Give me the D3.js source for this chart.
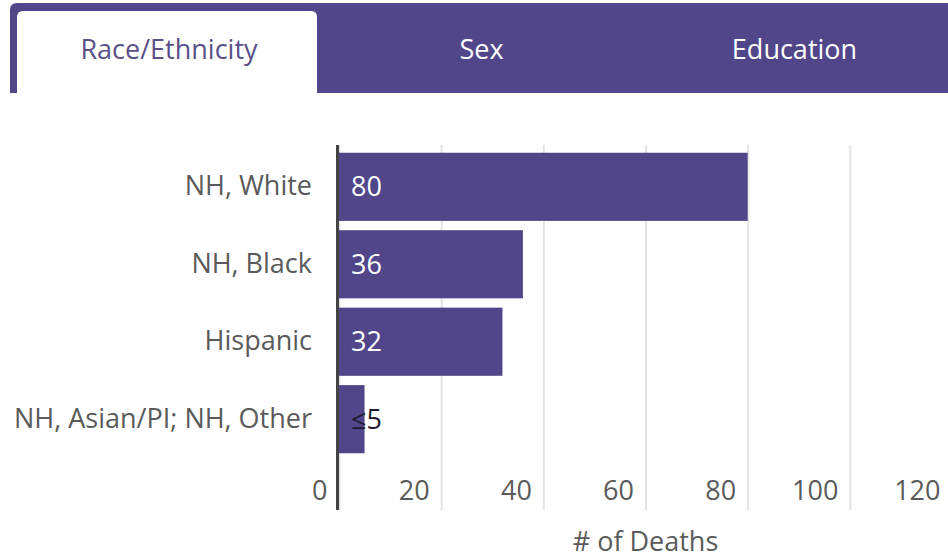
<!DOCTYPE html>
<html>
<head>
<meta charset="utf-8">
<script src="https://cdn.jsdelivr.net/npm/d3@7/dist/d3.min.js"></script>
<style>
  html, body { margin: 0; padding: 0; background: #fff; }
  svg { display: block; font-family: "Open Sans", sans-serif; }
</style>
</head>
<body>
<svg id="chart" width="948" height="560"></svg>
<script>
const tabs = ["Race/Ethnicity", "Sex", "Education"];
const categories = ["NH, White", "NH, Black", "Hispanic", "NH, Asian/PI; NH, Other"];
const values = [80, 36, 32, 5];
const valueLabels = ["80", "36", "32", "≤5"];
const xTicks = [0, 20, 40, 60, 80, 100, 120];
const xTitle = "# of Deaths";

const purple = "#51468a";
const fs = 27;
const svg = d3.select("#chart");

// ---- Tabs ----
const tabX = d3.scaleBand().domain(tabs).range([10, 949]);
const tabRight = 317;
const tabG = svg.append("g");
tabG.append("path")
  .attr("d", "M10,95 L10,10 Q10,3 17,3 L948,3 L948,93 L10,93 Z")
  .attr("fill", purple);
tabG.append("path")
  .attr("d", `M17,93 L17,17 Q17,11 23,11 L${tabRight - 6},11 Q${tabRight},11 ${tabRight},17 L${tabRight},93 Z`)
  .attr("fill", "#fff");
tabG.selectAll("text.tab")
  .data(tabs)
  .join("text")
  .attr("class", "tab")
  .attr("x", (d, i) => i === 0 ? (17 + tabRight) / 2 + 2 : tabX(d) + tabX.bandwidth() / 2 + 2)
  .attr("y", 59)
  .attr("text-anchor", "middle")
  .attr("font-size", fs)
  .attr("fill", (d, i) => i === 0 ? "#5a5189" : "#fff")
  .text(d => d);

// ---- Scales ----
const x = d3.scaleLinear().domain([0, 120]).range([339, 952]);
const y = d3.scaleBand().domain(categories).range([145, 461]).paddingInner(0.12).paddingOuter(0.1);
const plotTop = 145, plotBottom = 510;

// Gridlines + tick labels
const xAxis = d3.axisBottom(x).tickValues(xTicks).tickSize(-(plotBottom - plotTop)).tickFormat(d3.format("d"));
const gx = svg.append("g").attr("transform", `translate(0,${plotBottom})`).call(xAxis);
gx.select(".domain").remove();
gx.selectAll(".tick line").attr("stroke", "#e3e3e3").attr("stroke-width", 2);
gx.selectAll(".tick text")
  .attr("text-anchor", "end")
  .attr("x", -12)
  .attr("y", -10)
  .attr("dy", 0)
  .attr("font-size", fs)
  .attr("font-family", "Open Sans, sans-serif")
  .attr("fill", "#5a5a5a");

// Bars
svg.append("g").selectAll("rect")
  .data(values)
  .join("rect")
  .attr("x", x(0))
  .attr("y", (d, i) => y(categories[i]))
  .attr("width", d => x(d) - x(0))
  .attr("height", y.bandwidth())
  .attr("fill", purple);

// Value labels
svg.append("g").selectAll("text")
  .data(valueLabels)
  .join("text")
  .attr("x", x(0) + 12)
  .attr("y", (d, i) => y(categories[i]) + y.bandwidth() / 2)
  .attr("dy", "0.35em")
  .attr("font-size", fs)
  .attr("fill", (d, i) => values[i] < 10 ? "#1e1a33" : "#fff")
  .text(d => d);

// Category axis
const yAxis = d3.axisLeft(y).tickSize(0).tickPadding(26);
const gy = svg.append("g").attr("transform", `translate(${x(0) - 1},0)`).call(yAxis);
gy.select(".domain").remove();
gy.selectAll(".tick text")
  .attr("font-size", fs)
  .attr("font-family", "Open Sans, sans-serif")
  .attr("fill", "#5a5a5a");

// Zero line
svg.append("line")
  .attr("x1", x(0) - 1.5).attr("x2", x(0) - 1.5)
  .attr("y1", plotTop).attr("y2", plotBottom)
  .attr("stroke", "#444").attr("stroke-width", 3);

// X title
svg.append("text")
  .attr("x", (x.range()[0] + x.range()[1]) / 2)
  .attr("y", 551)
  .attr("text-anchor", "middle")
  .attr("font-size", fs)
  .attr("fill", "#5a5a5a")
  .text(xTitle);
</script>
</body>
</html>
